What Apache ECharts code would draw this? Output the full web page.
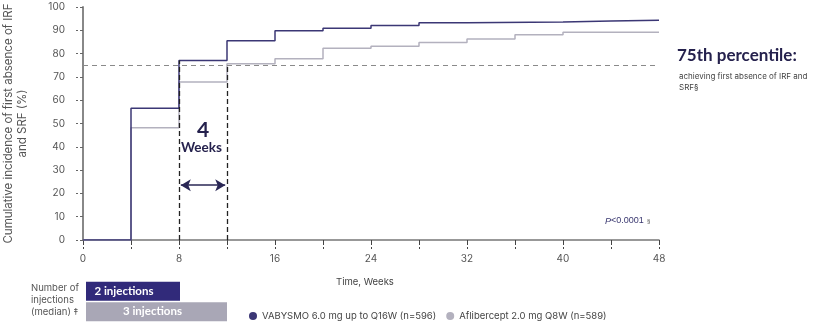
<!DOCTYPE html>
<html><head><meta charset="utf-8">
<script src="https://cdn.jsdelivr.net/npm/echarts@6/dist/echarts.min.js"></script>
<style>html,body{margin:0;padding:0;background:#fff}#c{width:830px;height:323px}</style>
</head><body><div id="c"></div>
<script>
// ---- data ----
const seriesNames = ['VABYSMO 6.0 mg up to Q16W (n=596)', 'Aflibercept 2.0 mg Q8W (n=589)'];
const vabWeeks = [0, 4, 8, 12, 16, 20, 24, 28, 32, 40, 44, 48];
const vabValues = [0, 56.5, 77, 85.5, 89.8, 90.9, 92.1, 93.2, 93.6, 94.0, 94.3, 94.3];
const afliWeeks = [0, 4, 8, 12, 16, 20, 24, 28, 32, 36, 40, 48];
const afliValues = [0, 48.2, 67.8, 75.6, 77.8, 82.3, 83.2, 84.8, 86.3, 88.1, 89.2, 89.2];
const xTickLabels = [0, 8, 16, 24, 32, 40, 48];
const yTickLabels = [0, 10, 20, 30, 40, 50, 60, 70, 80, 90, 100];
const percentile = 75;
const compareWeeks = [8, 12];
const injectionLabels = ['2 injections', '3 injections'];
const injectionWeeks = [8, 12];

const NAVY = '#3b3775', LIGHT = '#b3b1be', TXT = '#555', HEAD = '#25214d';
const BAR_NAVY = '#312a7a', BAR_GRAY = '#a9a7b6';
const zip = (a, b) => a.map((v, i) => [v, b[i]]);

const chart = echarts.init(document.getElementById('c'), null, {renderer: 'canvas'});
chart.setOption({
  animation: false,
  textStyle: {fontFamily: 'Inter'},
  grid: [
    {left: 83, right: 171, top: 7, bottom: 83, outerBoundsMode: 'none', containLabel: false},
    {left: 86, right: 180, top: 281, height: 41, outerBoundsMode: 'none', containLabel: false}
  ],
  xAxis: [
    {gridIndex: 0, type: 'value', min: 0, max: 48, interval: 4,
     axisLine: {show: true, lineStyle: {color: '#777', width: 1.5}},
     axisTick: {show: true, length: 9, lineStyle: {color: '#444', type: [5, 2], width: 1}},
     axisLabel: {color: TXT, fontSize: 10, margin: 14,
       formatter: v => xTickLabels.includes(v) ? String(v) : ''},
     splitLine: {show: false}},
    {gridIndex: 1, type: 'value', min: 0, max: 48, show: false}
  ],
  yAxis: [
    {gridIndex: 0, type: 'value', min: 0, max: 100, interval: 10,
     name: 'Cumulative incidence of first absence of IRF\nand SRF (%)',
     nameLocation: 'middle', nameRotate: 90, nameGap: 53,
     nameTextStyle: {color: TXT, fontSize: 11.5, lineHeight: 14},
     axisLine: {show: true, lineStyle: {color: '#888', width: 2}},
     axisTick: {show: true, length: 7, lineStyle: {color: '#666', type: [3, 2]}},
     axisLabel: {color: TXT, fontSize: 10, margin: 18,
       formatter: v => yTickLabels.includes(v) ? String(v) : ''},
     splitLine: {show: false}},
    {gridIndex: 1, type: 'category', data: injectionLabels, inverse: true, show: false}
  ],
  legend: {
    data: seriesNames, icon: 'circle', itemWidth: 8, itemHeight: 8, itemGap: 10, padding: 0,
    left: 249, top: 311, textStyle: {color: '#444', fontSize: 9.5, fontFamily: 'Inter'}
  },
  series: [
    {name: seriesNames[1], type: 'line', step: 'end', data: zip(afliWeeks, afliValues),
     symbol: 'none', color: LIGHT, lineStyle: {color: LIGHT, width: 1.5}, z: 2},
    {name: seriesNames[0], type: 'line', step: 'end', data: zip(vabWeeks, vabValues),
     symbol: 'none', color: NAVY, lineStyle: {color: NAVY, width: 1.5}, z: 3,
     markLine: {
       silent: true, symbol: 'none', label: {show: false},
       data: [
         [{coord: [0, percentile], lineStyle: {color: '#8a8a8a', type: [5, 4], width: 1.2}}, {coord: [48, percentile]}],
         [{coord: [compareWeeks[0], 0], lineStyle: {color: '#222', type: [5, 3], width: 1.3}}, {coord: [compareWeeks[0], vabValues[2]]}],
         [{coord: [compareWeeks[1], 0], lineStyle: {color: '#222', type: [5, 3], width: 1.3}}, {coord: [compareWeeks[1], percentile]}]
       ]
     }},
    {type: 'line', data: [], markLine: {
       silent: true, symbol: ['arrow', 'arrow'], symbolSize: [9, 10], label: {show: false},
       lineStyle: {color: '#2a2755', type: 'solid', width: 1.5},
       data: [[{coord: [8.15, 23.5]}, {coord: [11.85, 23.5]}]]
     }},
    {type: 'bar', xAxisIndex: 1, yAxisIndex: 1, barWidth: 19, barCategoryGap: 0,
     data: [
       {value: injectionWeeks[0], itemStyle: {color: BAR_NAVY}, label: {offset: [-9, 0]}},
       {value: injectionWeeks[1], itemStyle: {color: BAR_GRAY}, label: {offset: [-4, 0]}}
     ],
     label: {show: true, position: 'inside', color: '#fff', fontFamily: 'Lato', fontWeight: 'bold', fontSize: 11.5,
       formatter: p => injectionLabels[p.dataIndex]}}
  ],
  graphic: [
    {type: 'text', left: 197, top: 120, style: {text: '4', font: 'bold 21px Lato', fill: HEAD}},
    {type: 'text', left: 181, top: 141, style: {text: 'Weeks', font: 'bold 13.5px Lato', fill: HEAD}},
    {type: 'text', left: 677, top: 47, style: {text: '75th percentile:', font: 'bold 17px Lato', fill: HEAD}},
    {type: 'text', left: 679, top: 71, style: {text: 'achieving first absence of IRF and\nSRF§', font: '8px Inter', fill: '#444', lineHeight: 11}},
    {type: 'text', left: 605, top: 215, style: {rich: {i: {fontStyle: 'italic', fontSize: 9, fill: '#3a3870'}, n: {fontSize: 9, fill: '#3a3870'}, s: {fontSize: 6, fill: '#555'}},
      text: '{i|P}{n|<0.0001} {s|§}'}},
    {type: 'text', left: 336, top: 277, style: {text: 'Time, Weeks', font: '9.5px Inter', fill: '#444'}},
    {type: 'text', left: 31, top: 282, style: {text: 'Number of\ninjections\n(median) ‡', font: '9.5px Inter', fill: '#555', lineHeight: 12}}
  ]
});
</script></body></html>
